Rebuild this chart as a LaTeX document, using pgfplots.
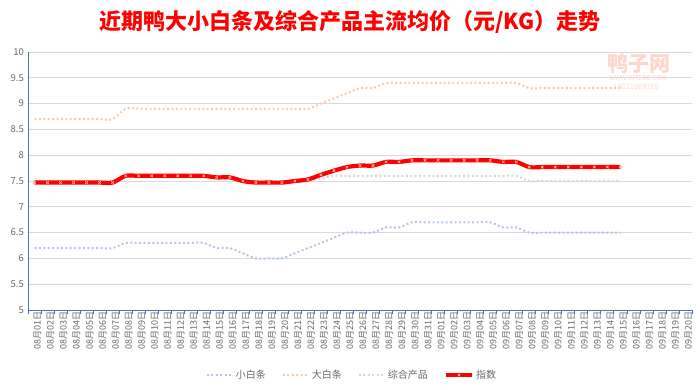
\documentclass[border=0pt]{standalone}
\usepackage{fontspec}
\setmainfont{Noto Sans CJK SC}
\usepackage{pgfplots}
\usepackage{pgfplotstable}
\pgfplotsset{compat=1.18}
\definecolor{xbt}{RGB}{180,199,231}
\definecolor{dbt}{RGB}{248,203,173}
\definecolor{zh}{RGB}{215,215,215}
\definecolor{axblue}{RGB}{68,114,196}
\definecolor{lbl}{RGB}{105,105,105}
\definecolor{gridc}{RGB}{217,217,217}
\definecolor{mk}{RGB}{255,185,175}
\definecolor{wm}{RGB}{253,214,204}

\pgfplotstableread{
i s b c z
0 6.2 8.7 7.5 7.47
1 6.2 8.7 7.5 7.47
2 6.2 8.7 7.5 7.47
3 6.2 8.7 7.5 7.47
4 6.2 8.7 7.5 7.47
5 6.2 8.7 7.5 7.47
6 6.2 8.7 7.5 7.47
7 6.3 8.9 7.6 7.6
8 6.3 8.9 7.6 7.6
9 6.3 8.9 7.6 7.6
10 6.3 8.9 7.6 7.6
11 6.3 8.9 7.6 7.6
12 6.3 8.9 7.6 7.6
13 6.3 8.9 7.6 7.6
14 6.2 8.9 7.6 7.57
15 6.2 8.9 7.6 7.57
16 6.1 8.9 7.5 7.5
17 6.0 8.9 7.5 7.47
18 6.0 8.9 7.5 7.47
19 6.0 8.9 7.5 7.47
20 6.1 8.9 7.5 7.5
21 6.2 8.9 7.5 7.53
22 6.3 9.0 7.55 7.62
23 6.4 9.1 7.6 7.7
24 6.5 9.2 7.6 7.77
25 6.5 9.3 7.6 7.8
26 6.5 9.3 7.6 7.8
27 6.6 9.4 7.6 7.87
28 6.6 9.4 7.6 7.87
29 6.7 9.4 7.6 7.9
30 6.7 9.4 7.6 7.9
31 6.7 9.4 7.6 7.9
32 6.7 9.4 7.6 7.9
33 6.7 9.4 7.6 7.9
34 6.7 9.4 7.6 7.9
35 6.7 9.4 7.6 7.9
36 6.6 9.4 7.6 7.87
37 6.6 9.4 7.6 7.87
38 6.5 9.3 7.5 7.77
39 6.5 9.3 7.5 7.77
40 6.5 9.3 7.5 7.77
41 6.5 9.3 7.5 7.77
42 6.5 9.3 7.5 7.77
43 6.5 9.3 7.5 7.77
44 6.5 9.3 7.5 7.77
45 6.5 9.3 7.5 7.77
}\data

\begin{document}
\begin{tikzpicture}
\useasboundingbox (0,0) rectangle (700pt,-389pt);
\node[text=red, font=\bfseries\fontsize{22}{22}\selectfont] at (350pt,-22pt) {近期鸭大小白条及综合产品主流均价（元/KG）走势};
\node[text=wm, font=\bfseries\fontsize{21}{21}\selectfont] at (639pt,-64pt) {鸭子网};
\node[text=wm, font=\fontsize{6.5}{6.5}\selectfont] at (638pt,-78pt) {WWW.INTEDC.COM};
\node[text=wm, font=\fontsize{7.5}{7.5}\selectfont] at (636pt,-87pt) {18631069765};
\begin{axis}[
  at={(28pt,-310pt)}, anchor=south west,
  scale only axis, width=664pt, height=258pt,
  xmin=-0.5, xmax=50.5, ymin=5, ymax=10,
  ytick={5,5.5,...,10},
  xtick={0,...,50},
  xticklabels={08月01日,08月02日,08月03日,08月04日,08月05日,08月06日,08月07日,08月08日,08月09日,08月10日,08月11日,08月12日,08月13日,08月14日,08月15日,08月16日,08月17日,08月18日,08月19日,08月20日,08月21日,08月22日,08月23日,08月24日,08月25日,08月26日,08月27日,08月28日,08月29日,08月30日,08月31日,09月01日,09月02日,09月03日,09月04日,09月05日,09月06日,09月07日,09月08日,09月09日,09月10日,09月11日,09月12日,09月13日,09月14日,09月15日,09月16日,09月17日,09月18日,09月19日,09月20日},
  minor xtick={-0.5,0.5,...,50.5},
  axis x line*=bottom, axis y line*=left,
  axis line style={axblue, line width=0.8pt},
  ymajorgrids, grid style={gridc, line width=0.8pt},
  major tick length=0pt,
  minor tick length=4pt,
  minor tick style={axblue, line width=0.8pt},
  tick align=outside,
  /pgf/number format/assume math mode=true,
  xticklabel style={rotate=90, anchor=east, font=\fontsize{9}{9}\selectfont, text=lbl, inner sep=1pt, yshift=-3pt},
  yticklabel style={font=\fontsize{9.5}{9.5}\selectfont, text=lbl, inner sep=1pt, xshift=-3pt},
  legend style={draw=none, fill=none, at={(0.488,-0.252)}, anchor=center, legend columns=4,
    font=\fontsize{10}{10}\selectfont, text=lbl,
    /tikz/every even column/.append style={column sep=14pt}},
  legend image code/.code={\draw[mark repeat=2,mark phase=2,#1] plot coordinates {(0pt,0pt) (13pt,0pt) (26pt,0pt)};},
  clip=false,
]
\addplot[xbt, line width=2pt, dash pattern=on 2pt off 2.4pt, smooth, tension=0.5] table[x=i, y=s] {\data};
\addlegendentry{小白条}
\addplot[dbt, line width=2pt, dash pattern=on 2pt off 2.4pt, smooth, tension=0.5] table[x=i, y=b] {\data};
\addlegendentry{大白条}
\addplot[zh, line width=2pt, dash pattern=on 2pt off 2.4pt, smooth, tension=0.5] table[x=i, y=c] {\data};
\addlegendentry{综合产品}
\addplot[red, line width=4.2pt, smooth, tension=0.5, mark=x, mark size=1.8pt, mark options={solid, draw=mk, line width=0.7pt}] table[x=i, y=z] {\data};
\addlegendentry{指数}
\end{axis}
\end{tikzpicture}
\end{document}
